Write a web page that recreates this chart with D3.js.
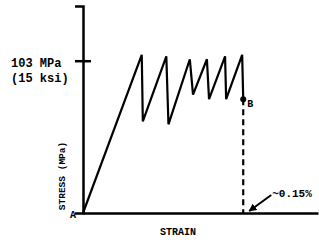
<!DOCTYPE html>
<html><head><meta charset="utf-8">
<script src="https://cdn.jsdelivr.net/npm/d3@7"></script>
<style>
html,body{margin:0;padding:0;background:#fff;}
text{font-family:"Liberation Mono","DejaVu Sans Mono",monospace;font-weight:bold;fill:#000;}
</style></head>
<body>
<script>
// strain (%) and stress (MPa) along the sawtooth curve
const strain = [0, 0.055, 0.056, 0.078, 0.080, 0.100, 0.103, 0.116, 0.118, 0.133, 0.134, 0.149, 0.150];
const stress = [0, 107, 62, 106, 60, 104, 80, 104, 77, 106, 77, 107, 77];
const tickValues = [103];
const tickLabels = [["103 MPa", "(15 ksi)"]];
const failStrain = 0.15;
const failLabel = "~0.15%";
const xTitle = "STRAIN";
const yTitle = "STRESS (MPa)";

const W = 319, H = 245;
const svg = d3.select("body").append("svg").attr("width", W).attr("height", H);

const x = d3.scaleLinear().domain([0, 0.22]).range([83, 318]);
const y = d3.scaleLinear().domain([0, 140]).range([213, 6]);

// y axis
const yAxis = svg.append("g").attr("transform", `translate(${x(0)},0)`)
  .call(d3.axisLeft(y).tickValues(tickValues).tickSizeOuter(0).tickSize(8).tickFormat(""));
yAxis.select(".domain").attr("stroke", "#000").attr("stroke-width", 2.5);
yAxis.selectAll(".tick line").attr("x1", -8).attr("x2", 8).attr("stroke", "#000").attr("stroke-width", 2.5);

// x axis
const xAxis = svg.append("g").attr("transform", `translate(0,${y(0)})`)
  .call(d3.axisBottom(x).tickValues([]).tickSizeOuter(0));
xAxis.select(".domain").attr("stroke", "#000").attr("stroke-width", 2.5);

// tick labels
tickValues.forEach((v, i) => {
  tickLabels[i].forEach((s, j) => {
    svg.append("text").attr("x", 11).attr("y", y(v) + 6 + j * 15)
      .attr("font-size", 12).text(s);
  });
});

// curve
const pts = strain.map((s, i) => [s, stress[i]]);
svg.append("path").datum(pts)
  .attr("d", d3.line().x(d => x(d[0])).y(d => y(d[1])))
  .attr("fill", "none").attr("stroke", "#000").attr("stroke-width", 2.2)
  .attr("stroke-linejoin", "miter");

// point B and dashed drop
const last = pts[pts.length - 1];
svg.append("line").attr("x1", x(failStrain)).attr("x2", x(failStrain))
  .attr("y1", y(last[1])).attr("y2", y(0))
  .attr("stroke", "#000").attr("stroke-width", 2.2).attr("stroke-dasharray", "6,4");
svg.append("circle").attr("cx", x(last[0])).attr("cy", y(last[1])).attr("r", 3).attr("fill", "#000");
svg.append("text").attr("x", x(last[0]) + 4).attr("y", y(last[1]) + 8).attr("font-size", 10).text("B");
svg.append("text").attr("x", x(0) - 13).attr("y", y(0) + 5).attr("font-size", 10).text("A");

// arrow to 0.15%
svg.append("defs").append("marker").attr("id", "ah").attr("viewBox", "0 0 10 10")
  .attr("refX", 9).attr("refY", 5).attr("markerWidth", 4).attr("markerHeight", 4)
  .attr("orient", "auto").append("path").attr("d", "M0,0L10,5L0,10Z").attr("fill", "#000");
svg.append("line").attr("x1", x(failStrain) + 28).attr("y1", y(0) - 18)
  .attr("x2", x(failStrain) + 6).attr("y2", y(0) - 2)
  .attr("stroke", "#000").attr("stroke-width", 2).attr("marker-end", "url(#ah)");
svg.append("text").attr("x", x(failStrain) + 29).attr("y", y(0) - 16).attr("font-size", 11).text(failLabel);

// axis titles
svg.append("text").attr("x", 178).attr("y", 235).attr("text-anchor", "middle").attr("font-size", 10).text(xTitle);
svg.append("text").attr("transform", "translate(65,176) rotate(-90)").attr("text-anchor", "middle")
  .attr("font-size", 9.5).text(yTitle);
</script>
</body></html>
